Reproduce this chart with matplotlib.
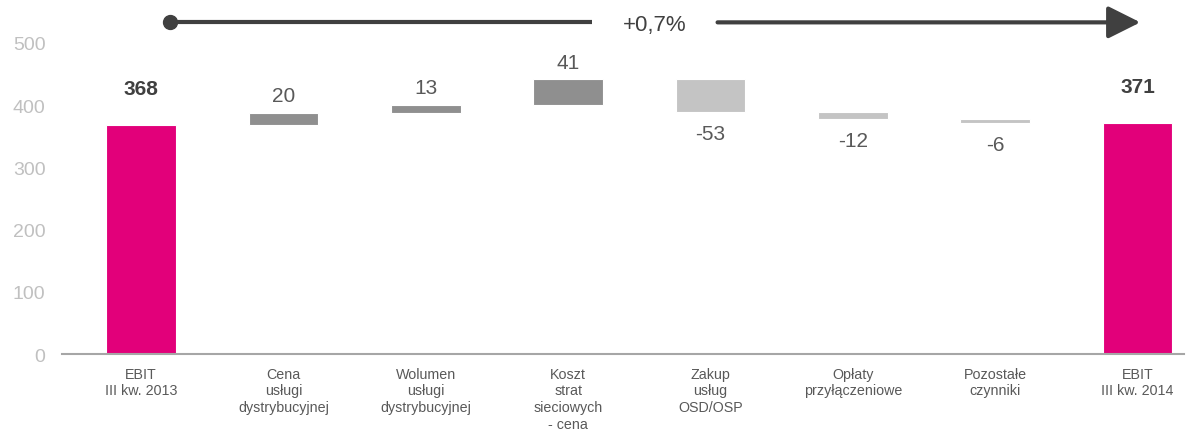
import matplotlib
matplotlib.use("Agg")
import matplotlib.pyplot as plt
from matplotlib.patches import FancyArrowPatch

categories = ["EBIT\nIII kw. 2013", "Cena\nusługi\ndystrybucyjnej", "Wolumen\nusługi\ndystrybucyjnej",
              "Koszt\nstrat\nsieciowych\n- cena", "Zakup\nusług\nOSD/OSP", "Opłaty\nprzyłączeniowe",
              "Pozostałe\nczynniki", "EBIT\nIII kw. 2014"]
start_total = 368
deltas = [20, 13, 41, -53, -12, -6]
end_total = 371
change_label = "+0,7%"
yticks = [0, 100, 200, 300, 400, 500]

PINK = "#E2007A"
UP = "#8F8F8F"
DOWN = "#C4C4C4"
TXT = "#595959"
DARK = "#404040"

plt.rcParams['font.family'] = ['Liberation Sans', 'DejaVu Sans']
fig = plt.figure(figsize=(11.94, 4.39), dpi=100)
ax = fig.add_axes([0.052, 0.191, 0.94, 0.709])

n = len(categories)
xs = list(range(n))
w = 0.49

ax.bar(0, start_total, width=w, color=PINK, edgecolor="white", linewidth=0.8)
ax.text(0, start_total + 59, str(start_total), ha="center", va="center", fontsize=15,
        fontweight="bold", color=DARK)
cum = start_total
for i, d in enumerate(deltas, start=1):
    bottom = cum if d >= 0 else cum + d
    ax.bar(i, abs(d), bottom=bottom, width=w, color=UP if d >= 0 else DOWN,
           edgecolor="white", linewidth=0.8)
    if d >= 0:
        ax.text(i, cum + d + 27, f"{d}", ha="center", va="center", fontsize=15, color=TXT)
    else:
        ax.text(i, cum + d - 34, f"{d}", ha="center", va="center", fontsize=15, color=TXT)
    cum += d
ax.bar(n - 1, end_total, width=w, color=PINK, edgecolor="white", linewidth=0.8)
ax.text(n - 1, end_total + 59, str(end_total), ha="center", va="center", fontsize=15,
        fontweight="bold", color=DARK)

ax.set_xlim(-0.555, 7.33)
ax.set_ylim(0, 500)
ax.set_yticks(yticks)
ax.set_yticklabels([str(t) for t in yticks], fontsize=14, color="#C0C0C0")
ax.set_xticks(xs)
ax.set_xticklabels(categories, fontsize=10.3, color=TXT, linespacing=1.25)
ax.tick_params(axis="both", length=0)
ax.tick_params(axis="x", pad=9)
ax.tick_params(axis="y", pad=12)
for s in ["top", "right", "left"]:
    ax.spines[s].set_visible(False)
ax.spines["bottom"].set_color("#A6A6A6")
ax.spines["bottom"].set_linewidth(1.5)

# top arrow
ya = 533
ax.plot([0.2, 3.17], [ya, ya], color=DARK, lw=3, clip_on=False, solid_capstyle="butt")
ax.plot([0.2], [ya], "o", color=DARK, ms=10, clip_on=False)
arr = FancyArrowPatch((4.05, ya), (7.02, ya), arrowstyle="-|>,head_length=1.1,head_width=0.55",
                      mutation_scale=18, color=DARK, lw=3, clip_on=False, shrinkA=0, shrinkB=0)
ax.add_patch(arr)
ax.text(3.61, ya - 3, change_label, ha="center", va="center", fontsize=16, color=DARK)

fig.savefig("out.png", dpi=100)
